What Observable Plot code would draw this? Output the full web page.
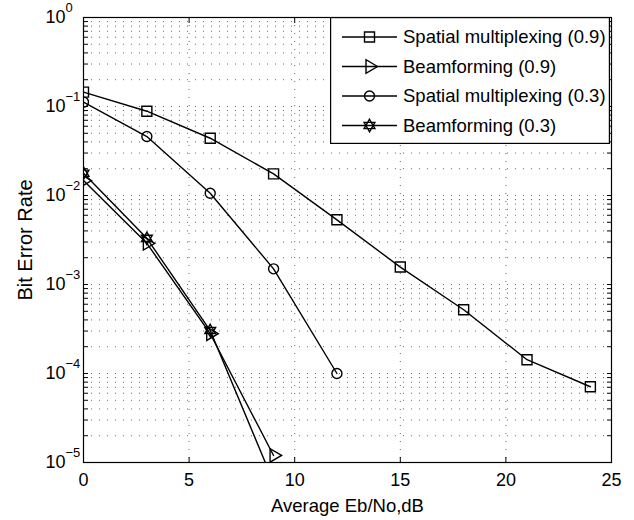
<!DOCTYPE html>
<html><head><meta charset="utf-8">
<script src="https://cdn.jsdelivr.net/npm/d3@7"></script>
<script src="https://cdn.jsdelivr.net/npm/@observablehq/plot@0.6"></script>
<style>
body{margin:0;background:#fff;}
#wrap{position:relative;width:634px;height:520px;font-family:"Liberation Sans",Arial,sans-serif;}
#legend{position:absolute;left:330px;top:17px;}
</style></head><body><div id="wrap"></div>
<script>
// ---- data ----
const snrSpatial09 = [0,3,6,9,12,15,18,21,24];
const berSpatial09 = [0.145,0.0885,0.044,0.0175,0.00533,0.00157,0.00052,0.000143,0.000071];
const snrBeam09 = [0,3,6,9];
const berBeam09 = [0.0147,0.0029,0.00028,0.000012];
const snrSpatial03 = [0,3,6,9,12];
const berSpatial03 = [0.112,0.046,0.0106,0.0015,0.0001];
const snrBeam03 = [0,3,6,9];
const berBeam03 = [0.0178,0.0033,0.000304,0.000006];
const seriesNames = ["Spatial multiplexing (0.9)","Beamforming (0.9)","Spatial multiplexing (0.3)","Beamforming (0.3)"];
const xTicks = [0,5,10,15,20,25];
const yMajor = [1e-5,1e-4,1e-3,1e-2,1e-1,1];
const xLabel = "Average Eb/No,dB";
const yLabel = "Bit Error Rate";

// all log gridlines (majors and 2..9 minors)
const yGrid = [];
yMajor.forEach((m,i)=>{ if(i<yMajor.length-1){ for(let k=1;k<10;k++) yGrid.push(m*k); } else yGrid.push(m); });

// ---- custom MATLAB-like marker symbols ----
const rad = s => Math.sqrt(s/Math.PI);
const symSquare = {draw(c,s){const r=rad(s); c.moveTo(-r,-r); c.lineTo(r,-r); c.lineTo(r,r); c.lineTo(-r,r); c.closePath();}};
const symCircle = {draw(c,s){const r=rad(s); c.moveTo(r,0); c.arc(0,0,r,0,2*Math.PI);}};
const symTriRight = {draw(c,s){const r=rad(s); c.moveTo(1.6*r,0); c.lineTo(-0.7*r,-1.35*r); c.lineTo(-0.7*r,1.35*r); c.closePath();}};
const symHexagram = {draw(c,s){const R=rad(s)*1.25;
  for(const off of [-90,90]){
    for(let i=0;i<3;i++){const a=(off+i*120)*Math.PI/180; const px=R*Math.cos(a), py=R*Math.sin(a); if(i===0)c.moveTo(px,py); else c.lineTo(px,py);}
    c.closePath();
  }}};
const symbols = [symSquare, symTriRight, symCircle, symHexagram];

const series = [
  [snrSpatial09, berSpatial09],
  [snrBeam09, berBeam09],
  [snrSpatial03, berSpatial03],
  [snrBeam03, berBeam03]
].map(([xs,ys],i)=>ys.map((v,j)=>({x:xs[j], y:v, s:seriesNames[i]})));

const gridStyle = {stroke:"#000", strokeOpacity:0.6, strokeDasharray:"1,7", strokeWidth:1};
const lw = 1.4;

const marks = [
  Plot.ruleY(yGrid, {y:d=>d, ...gridStyle}),
  Plot.ruleX(xTicks.slice(1,-1), {x:d=>d, ...gridStyle}),
  Plot.axisX({ticks:xTicks, anchor:"bottom", tickSize:5, insetBottom:5, tickFormat:()=>"", label:null}),
  Plot.axisX({ticks:xTicks, anchor:"top", tickSize:5, insetTop:5, tickFormat:()=>"", label:null}),
  Plot.axisY({ticks:yGrid, anchor:"left", tickSize:5, insetLeft:5, tickFormat:()=>"", label:null}),
  Plot.axisY({ticks:yGrid, anchor:"right", tickSize:5, insetRight:5, tickFormat:()=>"", label:null}),
  Plot.text(xTicks, {x:d=>d, frameAnchor:"bottom", dy:11, lineAnchor:"top", text:d=>String(d), fontSize:18}),
  Plot.text(yMajor, {y:d=>d, frameAnchor:"left", dx:-38, textAnchor:"start", text:d=>"10^"+Math.round(Math.log10(d)), fontSize:18}),
  Plot.text([xLabel], {frameAnchor:"bottom", dy:36, lineAnchor:"top", textAnchor:"middle", fontSize:18.5}),
  Plot.text([yLabel], {frameAnchor:"left", dx:-58, rotate:-90, textAnchor:"middle", lineAnchor:"middle", fontSize:20}),
  Plot.frame({stroke:"#000", strokeWidth:1.2})
];
series.forEach((d,i)=>{
  marks.push(Plot.line(d, {x:"x", y:"y", stroke:"#000", strokeWidth:lw, clip:true}));
  marks.push(Plot.dot(d, {x:"x", y:"y", symbol:symbols[i], r:5, stroke:"#000", fill:"none", strokeWidth:lw, clip:true}));
});

const chart = Plot.plot({
  width:634, height:520,
  marginLeft:83, marginRight:23, marginTop:17, marginBottom:58,
  x:{domain:[0,25]},
  y:{type:"log", domain:[1e-5,1]},
  style:{fontFamily:'"Liberation Sans",Arial,sans-serif', fontSize:"18px", color:"#000", background:"#fff"},
  marks
});
document.getElementById("wrap").appendChild(chart);

// superscript exponents on y tick labels ("10^e" -> 10 with raised e)
d3.select(chart).selectAll("text").each(function(){
  const t = d3.select(this);
  const s = t.text();
  if (!s.includes("^")) return;
  const e = s.split("^")[1].replace("-", "\u2212");
  t.text(null);
  t.append("tspan").text("10");
  t.append("tspan").attr("dy", -11).attr("font-size", 13).text(e);
});

// ---- legend overlay ----
const lg = d3.select("#wrap").append("svg").attr("id","legend").attr("width",280).attr("height",127);
lg.append("rect").attr("x",0.6).attr("y",0.6).attr("width",278.8).attr("height",125.8).attr("fill","#fff").attr("stroke","#000").attr("stroke-width",1.2);
const rowY = [20,49.5,79,108.5];
seriesNames.forEach((name,i)=>{
  const g = lg.append("g").attr("transform",`translate(0,${rowY[i]})`);
  g.append("line").attr("x1",12).attr("x2",67).attr("y1",0).attr("y2",0).attr("stroke","#000").attr("stroke-width",lw);
  const p = d3.path(); symbols[i].draw(p, Math.PI*25);
  g.append("path").attr("transform","translate(39.5,0)").attr("d",p.toString()).attr("fill","none").attr("stroke","#000").attr("stroke-width",lw);
  g.append("text").attr("x",73).attr("dy","0.35em").attr("font-size",18.5).attr("font-family",'"Liberation Sans",Arial,sans-serif').attr("fill","#000").text(name);
});
</script>
</body></html>
